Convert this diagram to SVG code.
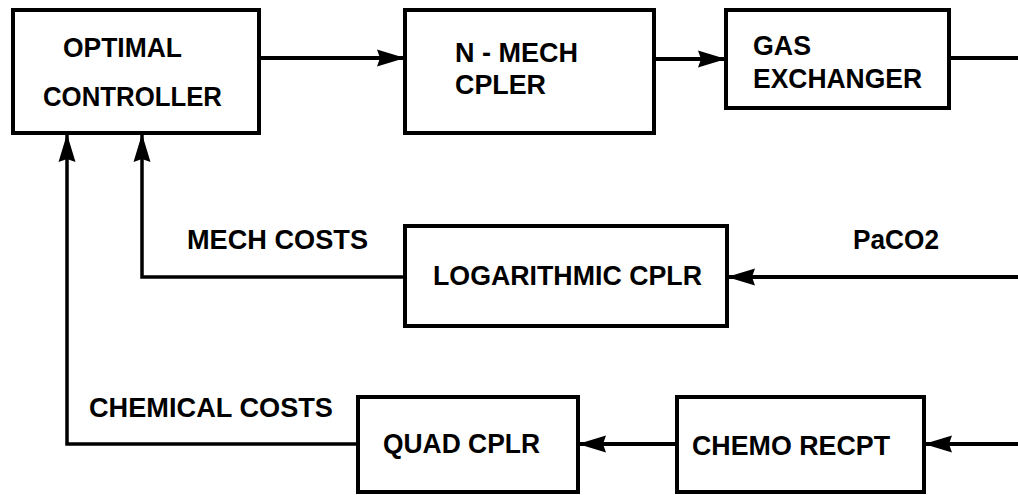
<svg xmlns="http://www.w3.org/2000/svg" width="1018" height="495" viewBox="0 0 1018 495">
<style>
.box{fill:#fff;stroke:#000;stroke-width:4}
.t{font-family:"Liberation Sans",Arial,sans-serif;font-weight:bold;font-size:27.5px;fill:#000}
.c{fill:none;stroke:#000;stroke-width:4}
.c3{fill:none;stroke:#000;stroke-width:3.5}
</style>
<defs>
<marker id="ah" markerUnits="userSpaceOnUse" markerWidth="30" markerHeight="20" refX="28" refY="10" orient="auto">
<path d="M0,1.5 L28,10 L0,18.5 L3,10 z" fill="#000"/>
</marker>
</defs>
<rect width="1018" height="495" fill="#fff"/>
<g id="connectors">
<line class="c" x1="259" y1="58" x2="405" y2="58" marker-end="url(#ah)"/>
<line class="c" x1="654" y1="59" x2="726" y2="59" marker-end="url(#ah)"/>
<line class="c" x1="949" y1="58" x2="1018" y2="58"/>
<line class="c" x1="1018" y1="277" x2="727" y2="277" marker-end="url(#ah)"/>
<polyline class="c3" points="405,277 142,277 142,134" marker-end="url(#ah)"/>
<line class="c" x1="1018" y1="444" x2="924" y2="444" marker-end="url(#ah)"/>
<line class="c" x1="677" y1="444" x2="578" y2="444" marker-end="url(#ah)"/>
<polyline class="c3" points="358,444 67,444 67,134" marker-end="url(#ah)"/>
</g>
<g id="optimal-controller">
<rect class="box" x="13" y="10" width="246" height="123"/>
<text class="t" x="63" y="57" textLength="119" lengthAdjust="spacingAndGlyphs">OPTIMAL</text>
<text class="t" x="43" y="106" textLength="179" lengthAdjust="spacingAndGlyphs">CONTROLLER</text>
</g>
<g id="n-mech-cpler">
<rect class="box" x="405" y="10" width="249" height="123"/>
<text class="t" x="455" y="62" textLength="123" lengthAdjust="spacingAndGlyphs">N - MECH</text>
<text class="t" x="455" y="94" textLength="91" lengthAdjust="spacingAndGlyphs">CPLER</text>
</g>
<g id="gas-exchanger">
<rect class="box" x="726" y="10" width="223" height="98"/>
<text class="t" x="753" y="55" textLength="58" lengthAdjust="spacingAndGlyphs">GAS</text>
<text class="t" x="753" y="88" textLength="169" lengthAdjust="spacingAndGlyphs">EXCHANGER</text>
</g>
<g id="logarithmic-cplr">
<rect class="box" x="405" y="226" width="322" height="100"/>
<text class="t" x="433" y="285" textLength="269" lengthAdjust="spacingAndGlyphs">LOGARITHMIC CPLR</text>
</g>
<g id="quad-cplr">
<rect class="box" x="358" y="397" width="220" height="95"/>
<text class="t" x="383" y="453" textLength="157" lengthAdjust="spacingAndGlyphs">QUAD CPLR</text>
</g>
<g id="chemo-recpt">
<rect class="box" x="677" y="397" width="247" height="95"/>
<text class="t" x="692" y="455" textLength="198" lengthAdjust="spacingAndGlyphs">CHEMO RECPT</text>
</g>
<g id="labels">
<text class="t" x="187" y="249" textLength="181" lengthAdjust="spacingAndGlyphs">MECH COSTS</text>
<text class="t" x="853" y="249" textLength="86" lengthAdjust="spacingAndGlyphs">PaCO2</text>
<text class="t" x="89" y="417" textLength="244" lengthAdjust="spacingAndGlyphs">CHEMICAL COSTS</text>
</g>
</svg>
